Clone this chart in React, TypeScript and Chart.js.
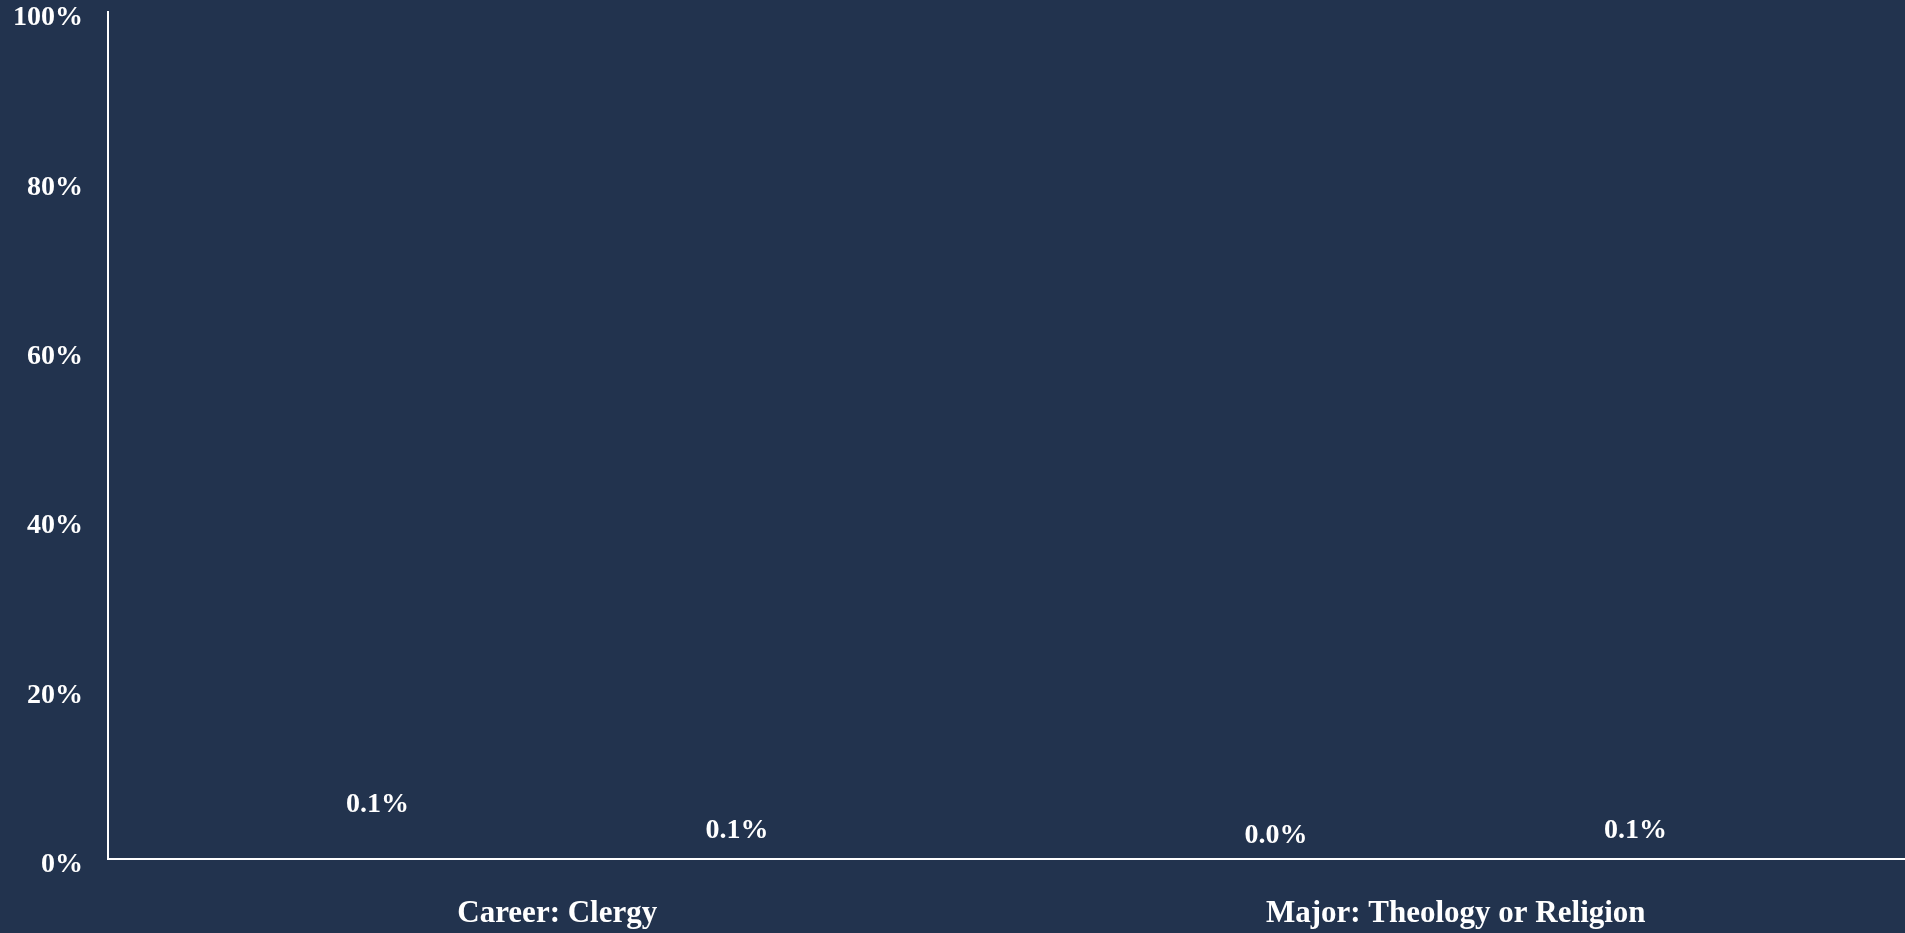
import React, { useEffect, useRef } from "react";
import { Chart, registerables } from "chart.js";

Chart.register(...registerables);

const categories = ["Career: Clergy", "Major: Theology or Religion"];
const seriesA = [3.7, 0.0];
const seriesB = [0.6, 0.6];
// label texts as printed on the chart
const labelsA = ["0.1%", "0.0%"];
const labelsB = ["0.1%", "0.1%"];
const yTicks = [0, 20, 40, 60, 80, 100];

const BG = "#22334E";
const FONT = "'Liberation Serif', 'DejaVu Serif', serif";

const valueLabelPlugin = {
  id: "valueLabels",
  afterDatasetsDraw(chart: any) {
    const ctx = chart.ctx;
    ctx.save();
    ctx.fillStyle = "#ffffff";
    ctx.font = `bold 28px ${FONT}`;
    ctx.textAlign = "center";
    ctx.textBaseline = "alphabetic";
    chart.data.datasets.forEach((ds: any, di: number) => {
      const meta = chart.getDatasetMeta(di);
      meta.data.forEach((bar: any, i: number) => {
        const txt = ds.labelTexts[i];
        ctx.fillText(txt, bar.x, bar.y - 16);
      });
    });
    ctx.restore();
  },
};

export default function App() {
  const ref = useRef<HTMLCanvasElement | null>(null);
  useEffect(() => {
    document.body.style.margin = "0";
    document.body.style.background = BG;
    const chart = new Chart(ref.current as HTMLCanvasElement, {
      type: "bar",
      data: {
        labels: categories,
        datasets: [
          {
            label: "A",
            data: seriesA,
            backgroundColor: "rgba(0,0,0,0)",
            borderWidth: 0,
            labelTexts: labelsA,
          } as any,
          {
            label: "B",
            data: seriesB,
            backgroundColor: "rgba(0,0,0,0)",
            borderWidth: 0,
            labelTexts: labelsB,
          } as any,
        ],
      },
      options: {
        animation: false,
        responsive: false,
        maintainAspectRatio: false,
        layout: { padding: { top: 12, right: 0, bottom: 0, left: 0 } },
        plugins: {
          legend: { display: false },
          tooltip: { enabled: false },
        },
        scales: {
          x: {
            grid: { display: false, drawTicks: false },
            border: { display: true, color: "#ffffff", width: 2 },
            afterFit: (scale: any) => {
              scale.height = 74;
              scale.paddingLeft = 0;
              scale.paddingRight = 0;
            },
            ticks: {
              color: "#ffffff",
              padding: 36,
              font: { family: FONT, size: 31, weight: "bold" },
            },
          },
          y: {
            min: 0,
            max: 100,
            afterBuildTicks: (axis: any) => {
              axis.ticks = yTicks.map((v) => ({ value: v }));
            },
            afterFit: (scale: any) => {
              scale.width = 108;
              scale.paddingTop = 0;
              scale.paddingBottom = 0;
            },
            grid: { display: false, drawTicks: false },
            border: { display: true, color: "#ffffff", width: 2 },
            ticks: {
              color: "#ffffff",
              padding: 25,
              labelOffset: 6,
              font: { family: FONT, size: 28, weight: "bold" },
              callback: (v: any) => `${v}%`,
            },
          },
        },
      },
      plugins: [valueLabelPlugin],
    });
    return () => chart.destroy();
  }, []);
  return (
    <div style={{ position: "fixed", left: 0, top: 0, width: 1905, height: 933, background: BG }}>
      <canvas ref={ref} width={1905} height={933} style={{ display: "block" }} />
    </div>
  );
}
